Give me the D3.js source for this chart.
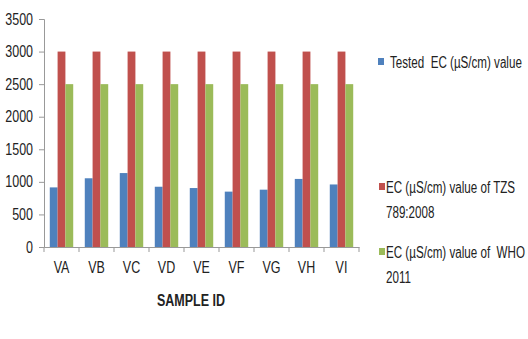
<!DOCTYPE html>
<html lang="en">
<head>
<meta charset="UTF-8">
<title>EC values by sample</title>
<script src="https://d3js.org/d3.v7.min.js"></script>
<style>
  body { margin: 0; background: #fff; }
  svg text { font-family: "Liberation Sans Narrow", "Arial Narrow", "Liberation Sans", Arial, sans-serif; fill: #222; }
</style>
</head>
<body>
<svg id="chart" width="528" height="339"></svg>
<script>
const samples = ["VA", "VB", "VC", "VD", "VE", "VF", "VG", "VH", "VI"];
const testedEC = [915, 1055, 1135, 925, 905, 850, 880, 1045, 960];
const tzsEC = [3000, 3000, 3000, 3000, 3000, 3000, 3000, 3000, 3000];
const whoEC = [2500, 2500, 2500, 2500, 2500, 2500, 2500, 2500, 2500];
const seriesColors = ["#4F81BD", "#C0504D", "#9BBB59"];
const yTicks = [0, 500, 1000, 1500, 2000, 2500, 3000, 3500];

const svg = d3.select("#chart");
const plot = { left: 44, right: 359, top: 19, bottom: 247 };
const narrow = 0.78; // squeeze text to look like a narrow face

const x = d3.scaleBand().domain(samples).range([plot.left, plot.right]).paddingInner(0).paddingOuter(0);
const xs = d3.scaleBand().domain([0, 1, 2]).range([0, x.bandwidth()]).paddingInner(0).paddingOuter(0.74);
const y = d3.scaleLinear().domain([0, 3500]).range([plot.bottom, plot.top]);

const series = [testedEC, tzsEC, whoEC];

// bars
series.forEach((vals, si) => {
  svg.append("g").selectAll("rect")
    .data(vals)
    .join("rect")
    .attr("x", (d, i) => x(samples[i]) + xs(si))
    .attr("y", d => y(d))
    .attr("width", xs.bandwidth())
    .attr("height", d => y(0) - y(d))
    .attr("fill", seriesColors[si]);
});

// y axis
const yAxis = svg.append("g")
  .attr("transform", `translate(${plot.left},0)`)
  .call(d3.axisLeft(y).tickValues(yTicks).tickFormat(d3.format("d")).tickSize(5).tickPadding(6));
yAxis.selectAll("text").style("font-size", "16px");

// x axis with ticks at category boundaries
const xAxis = svg.append("g")
  .attr("transform", `translate(0,${plot.bottom})`)
  .call(d3.axisBottom(x).tickSize(0).tickPadding(15));
xAxis.selectAll("text").style("font-size", "16px");
xAxis.selectAll(".tick line").remove();
svg.append("g").selectAll("line")
  .data(samples.concat(["end"]))
  .join("line")
  .attr("x1", (d, i) => i < samples.length ? x(d) : x.range()[1])
  .attr("x2", (d, i) => i < samples.length ? x(d) : x.range()[1])
  .attr("y1", plot.bottom)
  .attr("y2", plot.bottom + 5)
  .attr("stroke", "#999");

svg.selectAll(".domain, .tick line").attr("stroke", "#999");

// axis title
svg.append("text")
  .attr("x", 191)
  .attr("y", 306)
  .attr("text-anchor", "middle")
  .style("font-size", "16px")
  .style("font-weight", "bold")
  .text("SAMPLE ID");

// condense every text run
svg.selectAll("text").each(function() {
  const el = d3.select(this);
  const w = this.getComputedTextLength();
  el.attr("textLength", w * narrow).attr("lengthAdjust", "spacingAndGlyphs");
});

// legend: each line squeezed with a horizontal scale
const legendRows = [
  { y: 62, lines: ["Tested  EC (\u00b5S/cm) value"] },
  { y: 187, lines: ["EC (\u00b5S/cm) value of TZS", "789:2008"] },
  { y: 252, lines: ["EC (\u00b5S/cm) value of  WHO", "2011"] }
];
const legend = svg.append("g");
let legendScale = null;
legendRows.forEach((row, i) => {
  const tx = i === 0 ? 390 : 386;
  legend.append("rect")
    .attr("x", i === 0 ? 378 : 379)
    .attr("y", row.y - 4)
    .attr("width", 6)
    .attr("height", 7)
    .attr("fill", seriesColors[i]);
  row.lines.forEach((ln, j) => {
    const g = legend.append("g");
    const t = g.append("text")
      .attr("x", 0)
      .attr("y", 0)
      .style("font-size", "16px")
      .style("white-space", "pre")
      .text(ln);
    const w = t.node().getComputedTextLength();
    if (legendScale === null) legendScale = 132 / w;
    g.attr("transform", `translate(${tx},${row.y + 6 + j * 25}) scale(${legendScale},1)`);
  });
});
</script>
</body>
</html>
